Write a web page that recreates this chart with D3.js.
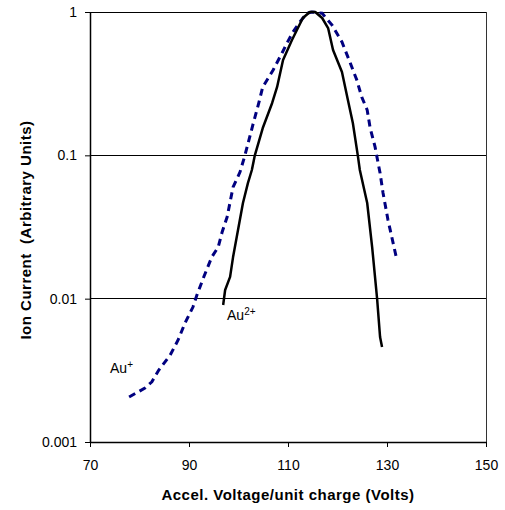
<!DOCTYPE html>
<html lang="en">
<head>
<meta charset="UTF-8">
<title>Ion Current vs Accel. Voltage</title>
<script src="https://cdnjs.cloudflare.com/ajax/libs/d3/7.8.5/d3.min.js"></script>
<style>
  body { margin: 0; background: #fff; }
  svg text { font-family: "Liberation Sans", Arial, sans-serif; fill: #000; }
</style>
</head>
<body>
<div id="chart"></div>
<script>
// Au+ (dashed navy)
const auPlusX = [77.9, 81.1, 82.5, 83.9, 86.2, 87.8, 89.2, 90.8, 91.6, 93.0, 94.6, 95.9, 96.7, 97.7, 98.9, 100.3,
  101.3, 102.9, 104.1, 104.9, 107.0, 108.8, 109.8, 111.0, 112.4, 113.8, 114.8, 116.9, 118.9, 120.9, 122.5,
  123.9, 124.9, 126.0, 126.6, 127.6, 128.2, 128.6, 129.2, 130.2, 132.0];
const auPlusY = [0.00206, 0.00238, 0.00263, 0.00318, 0.00404, 0.00515, 0.00676, 0.00874, 0.0106, 0.0142, 0.0195,
  0.0229, 0.0292, 0.0371, 0.060, 0.0764, 0.1, 0.163, 0.232, 0.30, 0.394, 0.518, 0.608, 0.725, 0.852, 0.98, 1.0,
  0.98, 0.81, 0.618, 0.448, 0.335, 0.255, 0.207, 0.155, 0.114, 0.0884, 0.0753, 0.0546, 0.0354, 0.0186];

// Au2+ (solid black)
const au2PlusX = [96.9, 97.3, 98.3, 98.9, 99.9, 100.9, 101.9, 102.7, 103.3, 104.9, 106.8, 107.8, 109.0, 110.8,
  112.0, 113.0, 114.4, 115.5, 116.9, 118.1, 119.1, 120.9, 122.1, 123.1, 124.1, 124.5, 126.0, 127.0, 128.0,
  128.6, 129.0];
const au2PlusY = [0.00903, 0.0115, 0.0142, 0.0195, 0.0301, 0.0465, 0.064, 0.079, 0.1, 0.155, 0.232, 0.30, 0.462,
  0.638, 0.773, 0.908, 1.0, 1.0, 0.908, 0.773, 0.543, 0.381, 0.243, 0.168, 0.1, 0.0794, 0.0465, 0.0229, 0.01,
  0.0054, 0.0046];

const xTicks = [70, 90, 110, 130, 150];
const yTicks = [0.001, 0.01, 0.1, 1];
const yTickLabels = ["0.001", "0.01", "0.1", "1"];

const width = 505, height = 510;
const margin = { top: 12, right: 19, bottom: 68, left: 90 };

const svg = d3.select("#chart").append("svg")
  .attr("width", width)
  .attr("height", height);

const x = d3.scaleLinear().domain([70, 150]).range([margin.left, width - margin.right]);
const y = d3.scaleLog().domain([0.001, 1]).range([height - margin.bottom, margin.top]);

// gridlines
svg.append("g")
  .selectAll("line")
  .data(yTicks.slice(1))
  .join("line")
  .attr("x1", x(70)).attr("x2", x(150))
  .attr("y1", d => y(d)).attr("y2", d => y(d))
  .attr("stroke", "#000").attr("stroke-width", 1)
  .attr("shape-rendering", "crispEdges");

// right border
svg.append("line")
  .attr("x1", x(150)).attr("x2", x(150))
  .attr("y1", y(1)).attr("y2", y(0.001))
  .attr("stroke", "#333").attr("stroke-width", 1)
  .attr("shape-rendering", "crispEdges");

// axes
const xAxis = d3.axisBottom(x).tickValues(xTicks).tickSize(5).tickSizeOuter(0);
const gx = svg.append("g")
  .attr("transform", `translate(0,${y(0.001)})`)
  .call(xAxis);
gx.selectAll("text").attr("font-size", 14).attr("y", 28).attr("dy", null)
  .style("font-family", "'Liberation Sans', Arial, sans-serif");

const yAxis = d3.axisLeft(y).tickValues(yTicks).tickFormat((d, i) => yTickLabels[i]).tickSize(5).tickSizeOuter(0);
const gy = svg.append("g")
  .attr("transform", `translate(${x(70)},0)`)
  .call(yAxis);
gy.selectAll("text").attr("font-size", 14).attr("x", -13)
  .style("font-family", "'Liberation Sans', Arial, sans-serif");

[gx, gy].forEach(g => {
  g.select(".domain").attr("stroke", "#000").attr("stroke-width", 1.5);
  g.selectAll(".tick line").attr("stroke", "#000");
});

// series
const line = d3.line().x(d => x(d[0])).y(d => y(d[1]));

svg.append("path")
  .datum(auPlusX.map((v, i) => [v, auPlusY[i]]))
  .attr("d", line)
  .attr("fill", "none")
  .attr("stroke", "#000080")
  .attr("stroke-width", 3)
  .attr("stroke-dasharray", "7,5");

svg.append("path")
  .datum(au2PlusX.map((v, i) => [v, au2PlusY[i]]))
  .attr("d", line)
  .attr("fill", "none")
  .attr("stroke", "#000")
  .attr("stroke-width", 2.5)
  .attr("stroke-linejoin", "round");

// series labels
const auPlus = svg.append("text").attr("x", 110).attr("y", 373).attr("font-size", 14);
auPlus.append("tspan").text("Au");
auPlus.append("tspan").attr("font-size", 10).attr("dy", -5).text("+");

const au2Plus = svg.append("text").attr("x", 227).attr("y", 320).attr("font-size", 14);
au2Plus.append("tspan").text("Au");
au2Plus.append("tspan").attr("font-size", 10).attr("dy", -5).text("2+");

// axis titles
svg.append("text")
  .attr("x", x(110)).attr("y", 500)
  .attr("text-anchor", "middle")
  .attr("font-size", 15).attr("font-weight", "bold")
  .attr("letter-spacing", 0.5)
  .text("Accel. Voltage/unit charge (Volts)");

svg.append("text")
  .attr("transform", `translate(31,230) rotate(-90)`)
  .attr("text-anchor", "middle")
  .attr("font-size", 15).attr("font-weight", "bold")
  .attr("letter-spacing", 0.5)
  .style("white-space", "pre")
  .text("Ion Current  (Arbitrary Units)");
</script>
</body>
</html>
